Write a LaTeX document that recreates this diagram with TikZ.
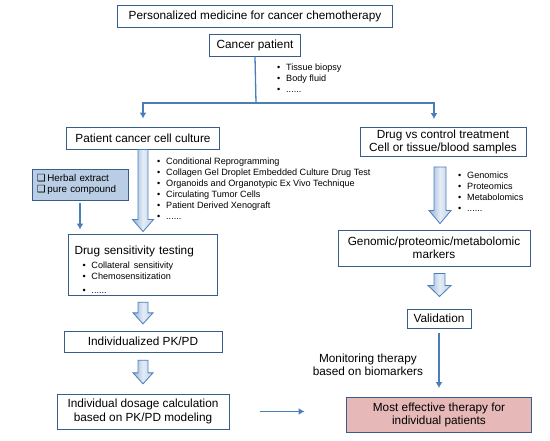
\documentclass[tikz,border=0pt]{standalone}
\usepackage{fontspec}
\setmainfont{Liberation Sans}
\newfontfamily\symf{DejaVu Sans}
\usetikzlibrary{arrows.meta, calc, positioning}
\definecolor{boxblue}{HTML}{385D8A}
\definecolor{lineblue}{HTML}{4A7EBB}
\definecolor{herbfill}{HTML}{B9CDE5}
\definecolor{pinkfill}{HTML}{E6B9B8}
\definecolor{fatdark}{HTML}{95B3D7}
\definecolor{fatlight}{HTML}{E4ECF6}
\newcommand{\boxfont}{\fontsize{11.8}{13.5}\selectfont}
\newcommand{\listfont}{\fontsize{9.1}{11}\selectfont}
\newcommand{\herbfont}{\fontsize{9.8}{11.7}\selectfont}
\newcommand{\itm}[1]{\makebox[9pt][l]{\textbullet}#1}
\tikzstyle{block} = [rectangle, draw=boxblue, line width=0.9pt, fill=white,
    align=center, font=\boxfont, inner sep=1pt]
\tikzstyle{herbal} = [rectangle, draw=boxblue, line width=0.9pt, fill=herbfill,
    text width=86pt, align=left, font=\herbfont, inner xsep=5pt, minimum height=31pt]
\tikzstyle{goal} = [block, fill=pinkfill]
\tikzstyle{items} = [anchor=north west, align=left, inner sep=0pt, font=\listfont]
\tikzstyle{line} = [draw=lineblue, line width=1.3pt, -{Latex[length=6pt, width=7pt]}]
\tikzstyle{fat} = [draw=lineblue, line width=0.8pt, left color=fatdark,
    right color=fatdark!60, middle color=fatlight]
% fat arrow: top point, tip point, half shaft, half head, head length
\newcommand{\blockarrow}[5]{%
  \draw[fat] let \p1=(#1), \p2=(#2) in
    (\x1-#3pt,\y1) -- (\x1-#3pt,\y2+#5pt) -- (\x1-#4pt,\y2+#5pt) -- (\x1,\y2)
    -- (\x1+#4pt,\y2+#5pt) -- (\x1+#3pt,\y2+#5pt) -- (\x1+#3pt,\y1) -- cycle;}

\begin{document}
\begin{tikzpicture}[x=1pt, y=1pt]
            \useasboundingbox (0,0) rectangle (550,-440);
            % Place nodes
            \node [block, minimum width=275pt, minimum height=22pt] (title) at (255,-16) {Personalized medicine for cancer chemotherapy};
            \node [block, below of=title, node distance=29pt, minimum width=91pt, minimum height=22pt] (patient) {Cancer patient};
            \node [block, minimum width=153pt, minimum height=22pt] (culture) at (143,-138) {Patient cancer cell culture};
            \node [block, minimum width=166pt, minimum height=29pt] (drugvs) at (443,-142) {Drug vs control treatment\\Cell or tissue/blood samples};
            \node [herbal] (herb) at (80,-184.5) {{\symf ❑}\,Herbal extract\\{\symf ❑}\,pure compound};
            \node [block, below of=culture, node distance=126.5pt, text width=137pt, align=left,
                   inner xsep=6pt, minimum height=61pt] (sens)
                  {\rule{0pt}{19pt}Drug sensitivity testing\\[3pt]\listfont
                   \hspace*{8pt}\itm{Collateral sensitivity}\\
                   \hspace*{8pt}\itm{Chemosensitization}\\
                   \hspace*{8pt}\itm{......}};
            \node [block, below of=sens, node distance=77pt, minimum width=158pt, minimum height=21pt] (pkpd) {Individualized PK/PD};
            \node [block, below of=pkpd, node distance=70pt, minimum width=172pt, minimum height=35pt] (dosage) {Individual dosage calculation\\based on PK/PD modeling};
            \node [block, minimum width=192pt, minimum height=36pt] (genomic) at (434,-248) {Genomic/proteomic/metabolomic\\markers};
            \node [block, minimum width=64pt, minimum height=19.5pt] (validation) at (439,-318.7) {Validation};
            \node [goal, below of=validation, node distance=96.3pt, minimum width=185pt, minimum height=35pt] (therapy) {Most effective therapy for\\individual patients};
            % Bullet lists
            \node [items] (sources) at (277,-63.7) {\baselineskip=12.6pt
                \itm{Tissue biopsy}\\ \itm{Body fluid}\\ \itm{......}};
            \node [items] (models) at (157,-158) {\baselineskip=10.9pt
                \itm{Conditional Reprogramming}\\
                \itm{Collagen Gel Droplet Embedded Culture Drug Test}\\
                \itm{Organoids and Organotypic Ex Vivo Technique}\\
                \itm{Circulating Tumor Cells}\\
                \itm{Patient Derived Xenograft}\\
                \itm{......}};
            \node [items] (omics) at (458,-172) {\baselineskip=11.3pt
                \itm{Genomics}\\ \itm{Proteomics}\\ \itm{Metabolomics}\\ \itm{......}};
            % Draw edges
            \coordinate (split) at (256,-103);
            \draw [draw=lineblue, line width=1.3pt] (patient.south) -- (split);
            \path [line, shorten >=8pt] (split) -| (culture.north);
            \path [line, shorten >=8pt] (split) -| ([xshift=-9pt]drugvs.north);
            \path [line, shorten <=3pt, shorten >=4pt] (herb.south) -- (herb.south |- sens.north);
            \path [line, shorten <=4.5pt, shorten >=9pt] (validation) --
                  node [left=12pt, pos=0.53, align=center, font=\boxfont] {Monitoring therapy\\based on biomarkers} (therapy);
            \path [line, shorten <=30.7pt, shorten >=41.5pt] (dosage.east) -- (dosage.east -| therapy.west);
            % Block arrows
            \blockarrow{culture.south}{$(sens.north)+(0,2)$}{5}{10.5}{12}
            \blockarrow{$(drugvs.south)+(-3,-10)$}{$(genomic.north)+(0,6)$}{6}{11}{13}
            \blockarrow{$(sens.south)+(0,-6.7)$}{$(pkpd.north)+(0,6.7)$}{5}{10}{11}
            \blockarrow{$(pkpd.south)+(0,-7.7)$}{$(dosage.north)+(0,9.7)$}{5}{10}{11}
            \blockarrow{$(genomic.south)+(5.5,-7)$}{$(validation.north)+(0,12)$}{5.5}{11.5}{11}
        \end{tikzpicture}
\end{document}
